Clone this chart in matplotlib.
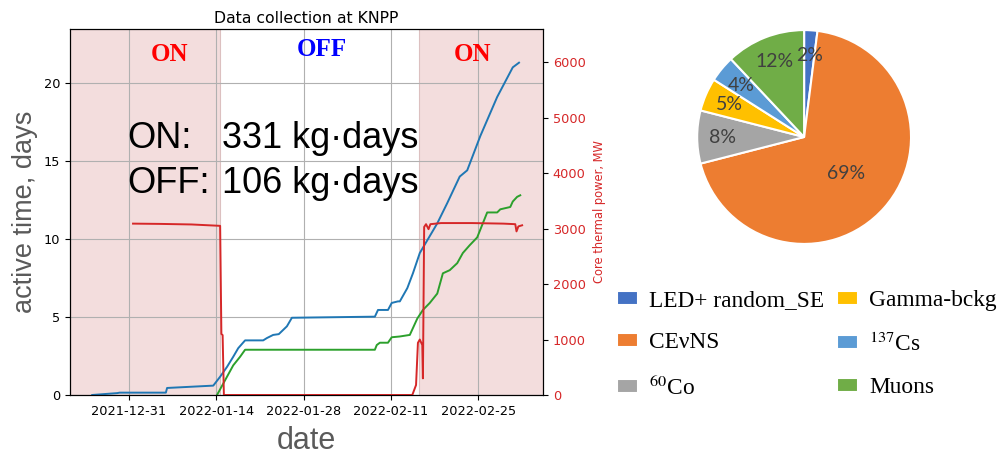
import datetime as dt

import matplotlib
matplotlib.use('Agg')
import matplotlib.dates as mdates
import matplotlib.pyplot as plt
import numpy as np

plt.rcParams['mathtext.fontset'] = 'stix'

# days counted from 2021-12-31
blue_days = [-5.9, -1.9, -1.5, 5.9, 6.1, 13.5, 14.6, 15.7, 16.7, 17.5, 18.6,
             21.5, 22.1, 23.1, 24.0, 25.3, 26.1, 39.4, 39.9, 41.5, 42.1, 43.1,
             43.4, 44.6, 45.5, 46.6, 49.4, 51.0, 53.0, 53.6, 54.2, 56.3, 59.0,
             61.5, 62.5]
blue_vals = [0.0, 0.12, 0.15, 0.15, 0.45, 0.6, 1.17, 1.8, 2.45, 3.0, 3.5,
             3.5, 3.65, 3.85, 3.9, 4.4, 4.95, 5.02, 5.45, 5.45, 5.9, 6.0,
             6.0, 6.85, 7.8, 9.1, 11.0, 12.3, 14.0, 14.2, 14.4, 16.6, 19.1,
             21.0, 21.3]

green_days = [14.1, 15.7, 16.7, 17.8, 18.6, 39.4, 39.7, 40.2, 41.5, 42.1,
              43.4, 45.0, 46.2, 47.1, 48.2, 49.4, 50.3, 51.4, 52.6, 53.5,
              54.6, 55.8, 56.7, 57.4, 59.0, 59.5, 61.1, 61.5, 62.2, 62.7]
green_vals = [0.0, 1.17, 1.9, 2.45, 2.9, 2.9, 3.2, 3.35, 3.35, 3.7,
              3.75, 3.85, 4.9, 5.45, 5.9, 6.5, 7.8, 8.0, 8.45, 9.1,
              9.6, 10.1, 11.0, 11.7, 11.7, 11.9, 12.05, 12.4, 12.7, 12.8]

power_days = [0.64, 5.0, 10.0, 14.6, 14.8, 15.0, 15.2, 45.4, 46.0, 46.3, 46.6,
              47.0, 47.1, 47.3, 47.6, 48.0, 48.3, 50.0, 55.0, 60.0, 61.9,
              62.1, 62.4, 63.0]
power_mw = [3090, 3085, 3075, 3050, 1100, 1080, 0, 0, 180, 940, 1000,
            900, 300, 3030, 3080, 2990, 3080, 3100, 3100, 3090, 3080,
            2950, 3040, 3060]

on_periods = [(-9.5, 14.5), (46.5, 66.4)]
tick_days = [0, 14, 28, 42, 56]

pie_labels = ['LED+ random_SE', 'CEνNS', '$^{60}$Co', 'Gamma-bckg',
              '$^{137}$Cs', 'Muons']
pie_values = [2, 69, 8, 5, 4, 12]
pie_colors = ['#4472C4', '#ED7D31', '#A5A5A5', '#FFC000', '#5B9BD5', '#70AD47']

base = mdates.date2num(dt.datetime(2021, 12, 31))


def to_dates(days):
    return base + np.asarray(days, dtype=float)


fig = plt.figure(figsize=(10.03, 4.57), dpi=100)

# --- time series -------------------------------------------------------
ax = fig.add_axes([0.0698, 0.1357, 0.4716, 0.8009])
for start, stop in on_periods:
    ax.axvspan(base + start, base + stop, facecolor='#f3dddd',
               edgecolor='#dcc0c0', linewidth=0.8, zorder=0)
ax.plot(to_dates(blue_days), blue_vals, color='tab:blue', lw=1.4)
ax.plot(to_dates(green_days), green_vals, color='tab:green', lw=1.4)
ax.set_xlim(base - 9.46, base + 66.35)
ax.set_ylim(0, 23.46)
ax.xaxis_date()
ax.set_xticks(to_dates(tick_days))
ax.xaxis.set_major_formatter(mdates.DateFormatter('%Y-%m-%d'))
ax.set_yticks([0, 5, 10, 15, 20])
ax.tick_params(labelsize=9.3)
ax.grid(True, color='#b0b0b0', lw=0.8)
ax.set_axisbelow(True)
ax.set_title('Data collection at KNPP', fontsize=11.3, pad=4)
ax.set_ylabel('active time, days', fontsize=19.5, color='#5a5a5a',
              family='Liberation Sans', labelpad=4)
ax.set_xlabel('date', fontsize=22, color='#5a5a5a',
              family='Liberation Sans', labelpad=6)

ax2 = ax.twinx()
ax2.plot(to_dates(power_days), power_mw, color='tab:red', lw=1.4)
ax2.set_ylim(0, 6600)
ax2.set_yticks([0, 1000, 2000, 3000, 4000, 5000, 6000])
ax2.tick_params(axis='y', labelsize=9.3, labelcolor='tab:red')
ax2.set_ylabel('Core thermal power, MW', color='tab:red', fontsize=8.3,
               labelpad=5)

# ON / OFF headers
hdr = dict(transform=ax.transAxes, ha='center', va='center',
           family='Liberation Serif', fontweight='bold', fontsize=18)
ax.text(0.211, 0.929, 'ON', color='red', **hdr)
ax.text(0.533, 0.943, 'OFF', color='blue', **hdr)
ax.text(0.85, 0.929, 'ON', color='red', **hdr)

# exposure summary
big = dict(transform=ax.transAxes, va='baseline', family='Liberation Sans',
           fontsize=26, color='black')
ax.text(0.1205, 0.675, 'ON:', **big)
ax.text(0.321, 0.675, '331 kg·days', **big)
ax.text(0.1205, 0.552, 'OFF:', **big)
ax.text(0.321, 0.552, '106 kg·days', **big)

# --- pie -----------------------------------------------------------------
axp = fig.add_axes([0.694, 0.4639, 0.2154, 0.4726])
wedges, _, pct = axp.pie(pie_values, colors=pie_colors, startangle=90,
                         counterclock=False, autopct='%d%%', pctdistance=0.76,
                         wedgeprops=dict(edgecolor='white', linewidth=1.5),
                         textprops=dict(color='#404040', fontsize=14,
                                        family='Lato'))
# the largest slice keeps its label nearer the centre
x, y = pct[1].get_position()
pct[1].set_position((x * 0.52 / 0.76, y * 0.52 / 0.76))
axp.set_xlim(-1.01, 1.01)
axp.set_ylim(-1.01, 1.01)
axp.set_aspect('equal')

fig.legend(wedges, pie_labels, loc='upper left',
           bbox_to_anchor=(617 / 1003, 1 - 290 / 457), ncol=2, frameon=False,
           prop=dict(family='Liberation Serif', size=16.8),
           handlelength=0.92, handleheight=0.55, handletextpad=0.45,
           columnspacing=0.55, labelspacing=0.92, borderpad=0,
           borderaxespad=0)

fig.savefig('out.png', dpi=100)
